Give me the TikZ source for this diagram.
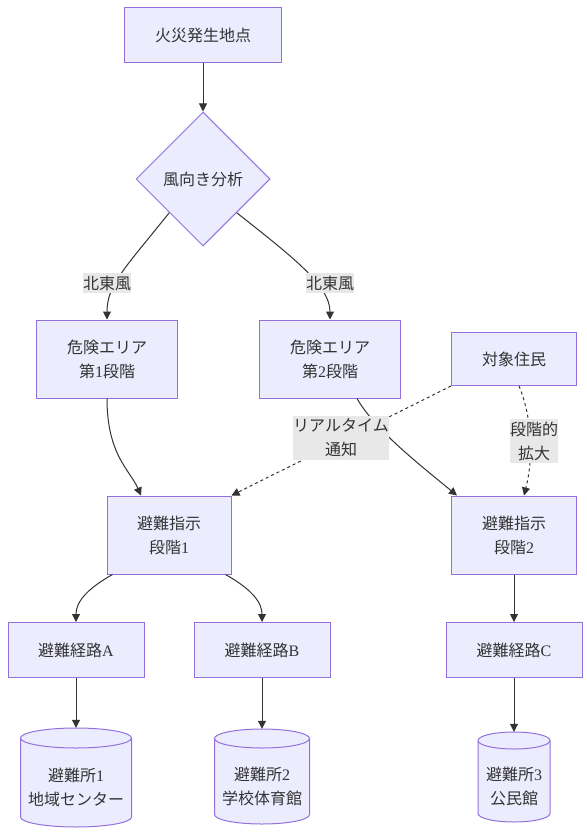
\documentclass[tikz,border=0pt]{standalone}
\usepackage{fontspec}
\setmainfont{Noto Sans CJK JP}
\newfontfamily\lat{Liberation Serif}
\usetikzlibrary{shapes.geometric,arrows.meta}
\definecolor{nodefill}{HTML}{ECECFF}
\definecolor{nodeline}{HTML}{9370DB}
\definecolor{edgeline}{HTML}{333333}
\definecolor{labelbg}{HTML}{E8E8E8}
\definecolor{txt}{HTML}{333333}
% cx, top, bottom, rx, ry
\newcommand\mycylinder[5]{%
  \filldraw[cylstyle] ({#1-#4},{#2+#5}) -- ({#1-#4},{#3-#5})
    arc[start angle=180,end angle=0,x radius=#4,y radius=#5]
    -- ({#1+#4},{#2+#5})
    arc[start angle=0,end angle=-180,x radius=#4,y radius=#5] -- cycle;
  \draw[cylstyle] ({#1-#4},{#2+#5}) arc[start angle=180,end angle=0,x radius=#4,y radius=#5];
}
\begin{document}
\begin{tikzpicture}[x=1pt,y=-1pt,
  txtfont/.style={font=\fontsize{16pt}{24pt}\selectfont},
  box/.style={draw=nodeline, fill=nodefill, line width=1pt, text=txt, txtfont, align=center, inner sep=0pt},
  decision/.style={diamond, aspect=1, draw=nodeline, fill=nodefill, line width=1pt, text=txt, txtfont, inner sep=0pt, minimum size=134pt},
  cylnode/.style={draw=none, inner sep=0pt},
  cyltext/.style={text=txt, txtfont, align=center, inner sep=0pt},
  cylstyle/.style={draw=nodeline, fill=nodefill, line width=1pt},
  edge/.style={draw=edgeline, line width=1pt, -{Triangle[length=8pt,width=8pt]}},
  dotedge/.style={edge, dash pattern=on 3pt off 3pt},
  elabel/.style={fill=labelbg, text=txt, txtfont, align=center, inner xsep=0pt, inner ysep=3pt}
]
\useasboundingbox (0,0) rectangle (586,834);

% nodes
\node[box, minimum width=157pt, minimum height=55pt] (fire) at (203,35) {火災発生地点};
\node[decision] (dia) at (203,179) {風向き分析};
\node[box, minimum width=141pt, minimum height=78pt] (z1) at (107,359) {危険エリア\\第{\lat 1}段階};
\node[box, minimum width=141pt, minimum height=78pt] (z2) at (330,359) {危険エリア\\第{\lat 2}段階};
\node[box, minimum width=125pt, minimum height=53pt] (res) at (514,359) {対象住民};
\node[box, minimum width=124pt, minimum height=78pt] (e1) at (169,535) {避難指示\\段階{\lat 1}};
\node[box, minimum width=125pt, minimum height=78pt] (e2) at (514,535) {避難指示\\段階{\lat 2}};
\node[box, minimum width=136pt, minimum height=55pt] (rA) at (76,650) {避難経路{\lat A}};
\node[box, minimum width=136pt, minimum height=55pt] (rB) at (262,650) {避難経路{\lat B}};
\node[box, minimum width=136pt, minimum height=55pt] (rC) at (514,650) {避難経路{\lat C}};

% cylinders
\mycylinder{76}{728}{827}{55.5}{10}
\mycylinder{262}{729}{824}{47.5}{9.5}
\mycylinder{514}{732}{822}{36}{8.5}
\node[cylnode, minimum width=111pt, minimum height=99pt] (s1) at (76,777.5) {};
\node[cylnode, minimum width=95pt, minimum height=95pt] (s2) at (262,776.5) {};
\node[cylnode, minimum width=72pt, minimum height=90pt] (s3) at (514,777) {};
\node[cyltext, yshift=-10pt] (s1t) at (s1) {避難所{\lat 1}\\地域センター};
\node[cyltext, yshift=-10pt] (s2t) at (s2) {避難所{\lat 2}\\学校体育館};
\node[cyltext, yshift=-9pt] (s3t) at (s3) {避難所{\lat 3}\\公民館};

% edges
\draw[edge] (fire.south) -- (dia.north);
\draw[edge] (dia.south west) .. controls (125,268) and (107,285) .. (z1.north);
\draw[edge] (dia.south east) .. controls (290,255) and (330,285) .. (z2.north);
\draw[edge] (z1.south) .. controls (107,455) and (130,470) .. ([xshift=-28pt]e1.north);
\draw[edge] ([xshift=27pt]z2.south) .. controls (375,430) and (420,465) .. ([xshift=6pt]e2.north west);
\draw[dotedge] (res.south west) -- (e1.north east);
\draw[dotedge] ([xshift=5pt]res.south) .. controls (533,420) and (533,460) .. ([xshift=10pt]e2.north);
\draw[edge] ([xshift=6pt]e1.south west) .. controls (85,590) and (76,603) .. (rA.north);
\draw[edge] ([xshift=-6pt]e1.south east) .. controls (253,590) and (262,603) .. (rB.north);
\draw[edge] (e2.south) -- (rC.north);
\draw[edge] (rA.south) -- (s1.north);
\draw[edge] (rB.south) -- (s2.north);
\draw[edge] (rC.south) -- (s3.north);

% edge labels
\node[elabel] (l1) at (107,283) {北東風};
\node[elabel] (l2) at (330,283) {北東風};
\node[elabel] (l3) at (341,438) {リアルタイム\\通知};
\node[elabel] (l4) at (534,441) {段階的\\拡大};
\end{tikzpicture}
\end{document}
